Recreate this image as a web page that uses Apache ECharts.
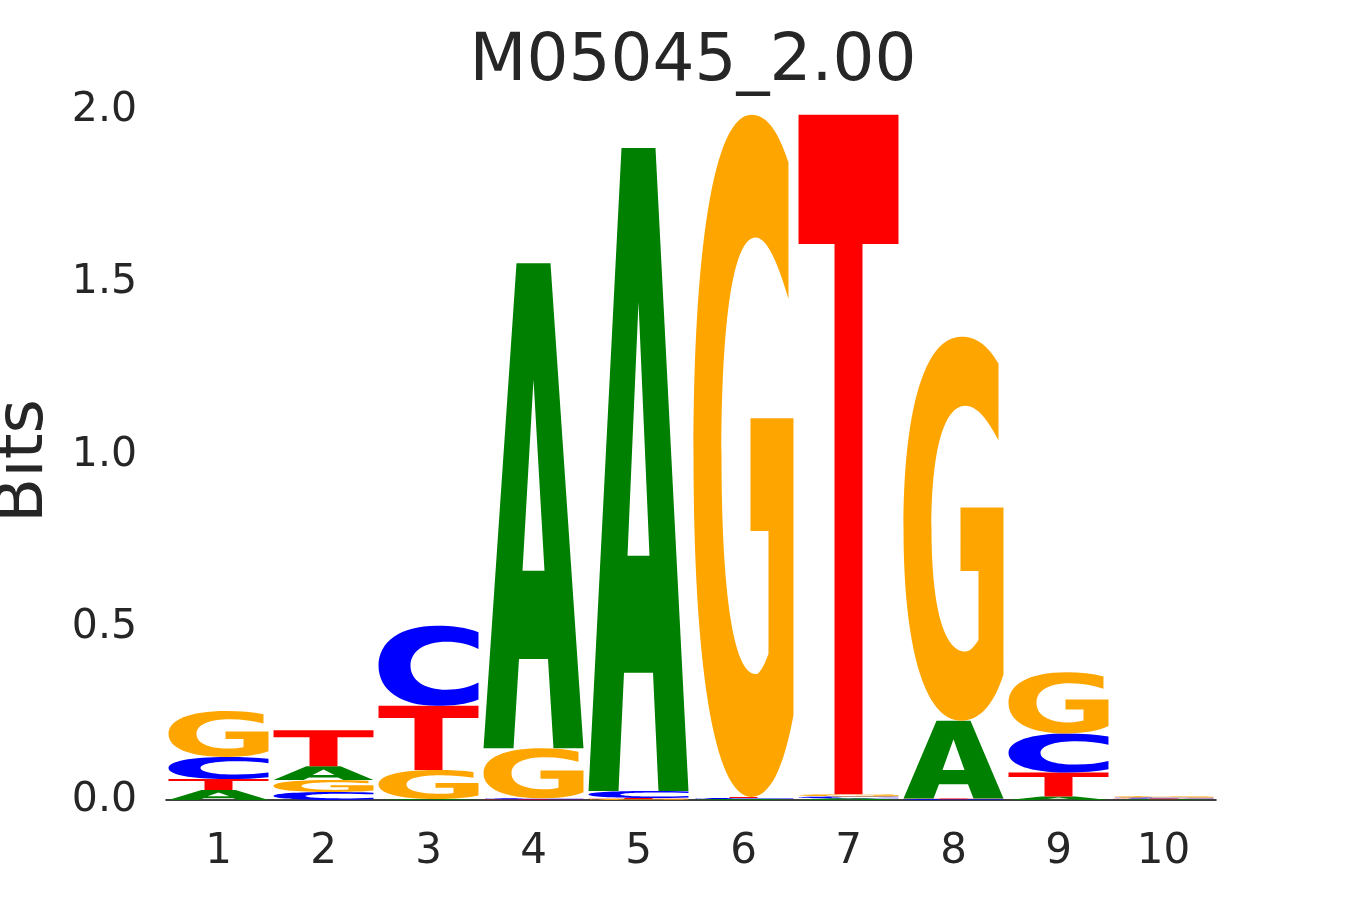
<!DOCTYPE html>
<html>
<head>
<meta charset="utf-8">
<script src="https://cdn.jsdelivr.net/npm/echarts@6/dist/echarts.min.js"></script>
<style>html,body{margin:0;padding:0;background:#fff;}#main{width:1350px;height:900px;}</style>
</head>
<body>
<div id="main"></div>
<script>
const positions = ['1','2','3','4','5','6','7','8','9','10'];
const yTicks = [0, 0.5, 1.0, 1.5, 2.0];
// Bits per letter at each position
const valA = [0.029, 0.040, 0.003, 1.406, 1.864, 0.003, 0.005, 0.226, 0.010, 0.002];
const valC = [0.064, 0.023, 0.232, 0.003, 0.020, 0.003, 0.005, 0.002, 0.113, 0.003];
const valG = [0.133, 0.035, 0.084, 0.145, 0.003, 1.977, 0.007, 1.113, 0.177, 0.004];
const valT = [0.032, 0.104, 0.186, 0.002, 0.003, 0.003, 1.969, 0.002, 0.070, 0.002];

const letters = ['A','C','G','T'];
const colors = {A:'#008000', C:'#0000FF', G:'#FFA500', T:'#FF0000'};
const glyphs = {
  A: 'M0,100 L33,0 L67,0 L100,100 L70,100 L64.5,81.6 L35.5,81.6 L30,100 Z M50,24 L39,63.4 L61,63.4 Z',
  C: 'M100,8 C88,2 74,0 58,0 C22,0 0,20 0,50 C0,80 22,100 58,100 C74,100 88,98 100,92 L100,71 C90,77 80,80 68,80 C46,80 32,68 32,50 C32,32 46,20 68,20 C80,20 90,23 100,29 Z',
  G: 'M95,7 C84,2 72,0 58,0 C20,0 0,20 0,50 C0,80 20,100 58,100 C76,100 90,96 100,88 L100,44.5 L57,44.5 L57,61 L75,61 L75,79 C70,81 66,82 62,82 C40,82 28,70 28,50 C28,30 40,18 62,18 C74,18 85,22 95,27 Z',
  T: 'M0,0 L100,0 L100,19 L64,19 L64,100 L36,100 L36,19 L0,19 Z'
};

const vals = {A: valA, C: valC, G: valG, T: valT};
const stackData = [];
positions.forEach((p, i) => {
  const items = letters.map(l => ({l, v: vals[l][i]})).sort((a, b) => a.v - b.v);
  let base = 0;
  items.forEach(it => {
    stackData.push([i, base, base + it.v, letters.indexOf(it.l)]);
    base += it.v;
  });
});

const chart = echarts.init(document.getElementById('main'));
const textColor = '#262626';
const font = 'DejaVu Sans';
chart.setOption({
  animation: false,
  backgroundColor: '#fff',
  title: {
    text: 'M05045_2.00', left: 688, top: 25, textAlign: 'center',
    textStyle: {fontFamily: font, fontSize: 66, fontWeight: 'normal', color: textColor}
  },
  grid: {left: 166, top: 110, width: 1050, height: 690, outerBoundsMode: 'none', containLabel: false},
  xAxis: {
    type: 'category', data: positions,
    axisLine: {show: true, lineStyle: {color: '#000', width: 1.5}},
    axisTick: {show: false},
    axisLabel: {fontFamily: font, fontSize: 42, color: textColor, margin: 31},
    splitLine: {show: false}
  },
  yAxis: {
    type: 'value', min: 0, max: 2, interval: 0.5,
    name: 'Bits', nameLocation: 'middle', nameGap: 108, nameRotate: 90,
    nameTextStyle: {fontFamily: font, fontSize: 66, color: textColor, padding: [0, 12, 0, 0]},
    axisLine: {show: false}, axisTick: {show: false}, splitLine: {show: false},
    axisLabel: {fontFamily: font, fontSize: 41, color: textColor, margin: 29,
      formatter: v => v.toFixed(1)}
  },
  series: [{
    type: 'custom',
    data: stackData,
    renderItem: function (params, api) {
      const xi = api.value(0), y0 = api.value(1), y1 = api.value(2);
      const l = letters[api.value(3)];
      const band = api.size([1, 0])[0];
      const w = band * 0.952;
      const c0 = api.coord([xi, y0]);
      const c1 = api.coord([xi, y1]);
      const h = c0[1] - c1[1];
      if (h <= 0) return null;
      return {
        type: 'path',
        shape: {pathData: glyphs[l], x: c0[0] - w / 2, y: c1[1], width: w, height: h, layout: 'cover'},
        style: {fill: colors[l]}
      };
    }
  }]
});
</script>
</body>
</html>
